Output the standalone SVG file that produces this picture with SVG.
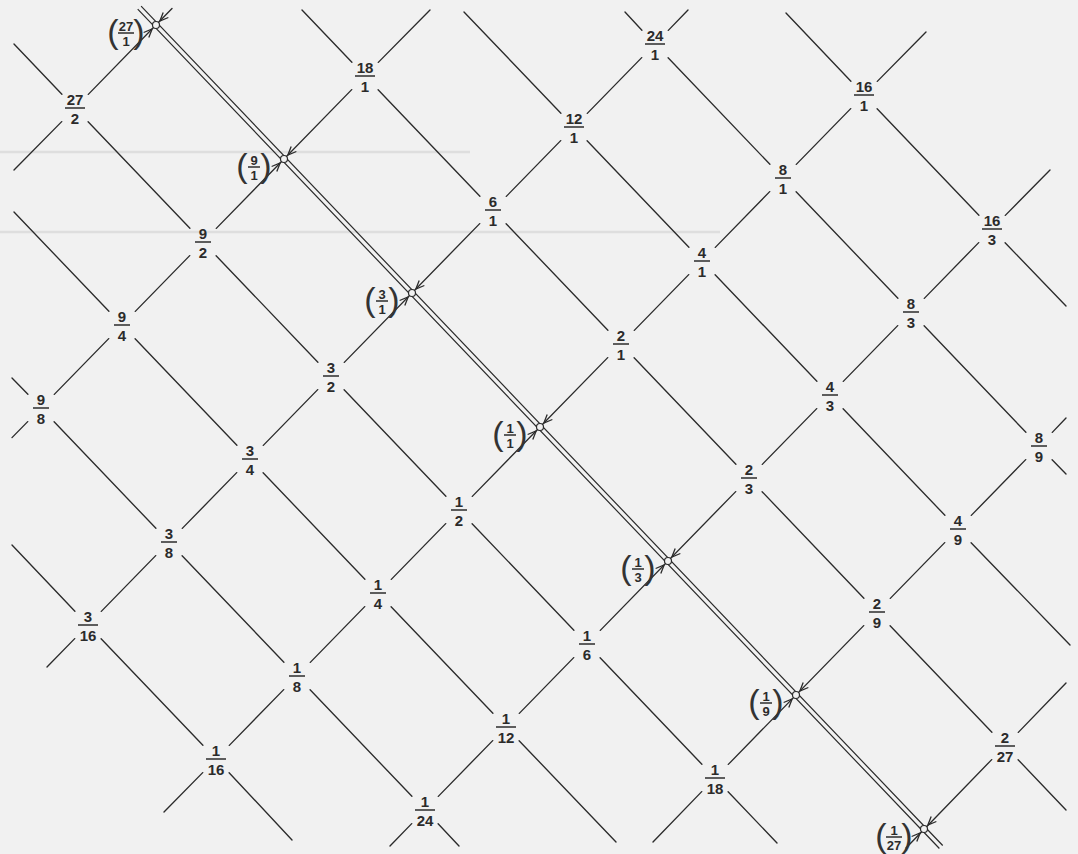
<svg xmlns="http://www.w3.org/2000/svg" width="1078" height="854" viewBox="0 0 1078 854">
<style>
.ln{stroke:#2b2b2b;stroke-width:1.35;fill:none;stroke-linecap:round}
.dl{stroke:#2b2b2b;stroke-width:1.2;fill:none}
.ah{stroke:#2b2b2b;stroke-width:1.3;fill:none;stroke-linejoin:miter}
.f{font-family:"Liberation Sans",Arial,sans-serif;font-weight:bold;font-size:15px;fill:#2b2b2b;text-anchor:middle}
.fc{font-family:"Liberation Sans",Arial,sans-serif;font-weight:bold;font-size:13px;fill:#2b2b2b;text-anchor:middle}
.p{font-family:"Liberation Sans",Arial,sans-serif;font-size:34px;fill:#333;text-anchor:middle}
.bar{stroke:#2b2b2b;stroke-width:1.5}
.rule{stroke:#dedede;stroke-width:2.5}
.ci{fill:#f1f1f1;stroke:#2b2b2b;stroke-width:1.2}
</style>
<defs>
<path id="ah" class="ah" d="M14,-3.6 L5.5,0 L14,3.6"/>
</defs>
<rect width="1078" height="854" fill="#f1f1f1"/>
<g id="background">
<line class="rule" x1="0" y1="152" x2="470" y2="152"/>
<line class="rule" x1="0" y1="232" x2="720" y2="232"/>
</g>
<g id="connectors">
<path class="dl" d="M137.7,9.1 L939.4,848.5 M141.1,6.1 L942.7,845.5"/>
<path class="ln" d="M14,170 L61.7,121.6 M88.3,94.4 L172,8.5
M12,437.6 L27.7,421.6 M54.3,394.4 L108.7,338.6 M135.3,311.4 L189.7,255.6 M216.3,228.4 L351.7,89.6 M378.3,62.4 L430,10
M47,667 L74.7,638.6 M101.3,611.4 L155.7,555.6 M182.3,528.4 L236.7,472.6 M263.3,445.4 L317.7,389.6 M344.3,362.4 L479.7,223.6 M506.3,196.4 L560.7,140.6 M587.3,113.4 L641.7,57.6 M668.3,30.4 L688,10
M164,812 L202.7,772.6 M229.3,745.4 L283.7,689.6 M310.3,662.4 L364.7,606.6 M391.3,579.4 L445.7,523.6 M472.3,496.4 L607.7,357.6 M634.3,330.4 L688.7,274.6 M715.3,247.4 L769.7,191.6 M796.3,164.4 L850.7,108.6 M877.3,81.4 L926,32
M390,846 L411.7,823.6 M438.3,796.4 L492.7,740.6 M519.3,713.4 L573.7,657.6 M600.3,630.4 L735.7,491.6 M762.3,464.4 L816.7,408.6 M843.3,381.4 L897.7,325.6 M924.3,298.4 L978.7,242.6 M1005.3,215.4 L1050,170
M653,842 L701.7,791.6 M728.3,764.4 L863.7,625.6 M890.3,598.4 L944.7,542.6 M971.3,515.4 L1025.7,459.6 M1052.3,432.4 L1066,418
M906,848 L991.7,759.6 M1018.3,732.4 L1066,683"/>
<path class="ln" d="M12,545 L74.9,611.3 M101.1,638.7 L202.9,745.3 M229.1,772.7 L292,840
M12,378 L27.9,394.3 M54.1,421.7 L155.9,528.3 M182.1,555.7 L283.9,662.3 M310.1,689.7 L411.9,796.3 M438.1,823.7 L459,846
M14,212 L108.9,311.3 M135.1,338.7 L236.9,445.3 M263.1,472.7 L364.9,579.3 M391.1,606.7 L492.9,713.3 M519.1,740.7 L616,842
M14,44 L61.9,94.3 M88.1,121.7 L189.9,228.3 M216.1,255.7 L317.9,362.3 M344.1,389.7 L445.9,496.3 M472.1,523.7 L573.9,630.3 M600.1,657.7 L701.9,764.3 M728.1,791.7 L777,843
M302,10 L351.9,62.3 M378.1,89.7 L479.9,196.3 M506.1,223.7 L607.9,330.3 M634.1,357.7 L735.9,464.3 M762.1,491.7 L863.9,598.3 M890.1,625.7 L991.9,732.3 M1018.1,759.7 L1066,810
M464,12 L560.9,113.3 M587.1,140.7 L688.9,247.3 M715.1,274.7 L816.9,381.3 M843.1,408.7 L944.9,515.3 M971.1,542.7 L1070,645
M625,12 L641.9,30.3 M668.1,57.7 L769.9,164.3 M796.1,191.7 L897.9,298.3 M924.1,325.7 L1025.9,432.3 M1052.1,459.7 L1066,474
M786,13 L850.9,81.3 M877.1,108.7 L978.9,215.3 M1005.1,242.7 L1066,306"/>
<use href="#ah" transform="translate(156,25) rotate(-45.7)"/>
<use href="#ah" transform="translate(156,25) rotate(134.3)"/>
<use href="#ah" transform="translate(284,159) rotate(-45.7)"/>
<use href="#ah" transform="translate(284,159) rotate(134.3)"/>
<use href="#ah" transform="translate(412,293) rotate(-45.7)"/>
<use href="#ah" transform="translate(412,293) rotate(134.3)"/>
<use href="#ah" transform="translate(540,427) rotate(-45.7)"/>
<use href="#ah" transform="translate(540,427) rotate(134.3)"/>
<use href="#ah" transform="translate(668,561) rotate(-45.7)"/>
<use href="#ah" transform="translate(668,561) rotate(134.3)"/>
<use href="#ah" transform="translate(796,695) rotate(-45.7)"/>
<use href="#ah" transform="translate(796,695) rotate(134.3)"/>
<use href="#ah" transform="translate(924,829) rotate(-45.7)"/>
<use href="#ah" transform="translate(924,829) rotate(134.3)"/>
</g>
<g id="n27-1"><circle class="ci" cx="156" cy="25" r="3.5"/><text class="p" x="113" y="43">(</text><text class="p" x="139" y="43">)</text><text class="fc" x="126" y="30.5">27</text><path class="bar" d="M118,33 h16"/><text class="fc" x="126" y="45.5">1</text></g>
<g id="n9-1"><circle class="ci" cx="284" cy="159" r="3.5"/><text class="p" x="242" y="177">(</text><text class="p" x="266" y="177">)</text><text class="fc" x="254" y="164.5">9</text><path class="bar" d="M248,167 h12"/><text class="fc" x="254" y="179.5">1</text></g>
<g id="n3-1"><circle class="ci" cx="412" cy="293" r="3.5"/><text class="p" x="370" y="311">(</text><text class="p" x="394" y="311">)</text><text class="fc" x="382" y="298.5">3</text><path class="bar" d="M376,301 h12"/><text class="fc" x="382" y="313.5">1</text></g>
<g id="n1-1"><circle class="ci" cx="540" cy="427" r="3.5"/><text class="p" x="498" y="445">(</text><text class="p" x="522" y="445">)</text><text class="fc" x="510" y="432.5">1</text><path class="bar" d="M504,435 h12"/><text class="fc" x="510" y="447.5">1</text></g>
<g id="n1-3"><circle class="ci" cx="668" cy="561" r="3.5"/><text class="p" x="626" y="579">(</text><text class="p" x="650" y="579">)</text><text class="fc" x="638" y="566.5">1</text><path class="bar" d="M632,569 h12"/><text class="fc" x="638" y="581.5">3</text></g>
<g id="n1-9"><circle class="ci" cx="796" cy="695" r="3.5"/><text class="p" x="754" y="713">(</text><text class="p" x="778" y="713">)</text><text class="fc" x="766" y="700.5">1</text><path class="bar" d="M760,703 h12"/><text class="fc" x="766" y="715.5">9</text></g>
<g id="n1-27"><circle class="ci" cx="924" cy="829" r="3.5"/><text class="p" x="881" y="847">(</text><text class="p" x="907" y="847">)</text><text class="fc" x="894" y="834.5">1</text><path class="bar" d="M886,837 h16"/><text class="fc" x="894" y="849.5">27</text></g>
<g id="n27-2"><text class="f" x="75" y="104.5">27</text><path class="bar" d="M65,108 h20"/><text class="f" x="75" y="123.5">2</text></g>
<g id="n18-1"><text class="f" x="365" y="72.5">18</text><path class="bar" d="M355,76 h20"/><text class="f" x="365" y="91.5">1</text></g>
<g id="n9-2"><text class="f" x="203" y="238.5">9</text><path class="bar" d="M195,242 h16"/><text class="f" x="203" y="257.5">2</text></g>
<g id="n9-4"><text class="f" x="122" y="321.5">9</text><path class="bar" d="M114,325 h16"/><text class="f" x="122" y="340.5">4</text></g>
<g id="n9-8"><text class="f" x="41" y="404.5">9</text><path class="bar" d="M33,408 h16"/><text class="f" x="41" y="423.5">8</text></g>
<g id="n24-1"><text class="f" x="655" y="40.5">24</text><path class="bar" d="M645,44 h20"/><text class="f" x="655" y="59.5">1</text></g>
<g id="n12-1"><text class="f" x="574" y="123.5">12</text><path class="bar" d="M564,127 h20"/><text class="f" x="574" y="142.5">1</text></g>
<g id="n6-1"><text class="f" x="493" y="206.5">6</text><path class="bar" d="M485,210 h16"/><text class="f" x="493" y="225.5">1</text></g>
<g id="n3-2"><text class="f" x="331" y="372.5">3</text><path class="bar" d="M323,376 h16"/><text class="f" x="331" y="391.5">2</text></g>
<g id="n3-4"><text class="f" x="250" y="455.5">3</text><path class="bar" d="M242,459 h16"/><text class="f" x="250" y="474.5">4</text></g>
<g id="n3-8"><text class="f" x="169" y="538.5">3</text><path class="bar" d="M161,542 h16"/><text class="f" x="169" y="557.5">8</text></g>
<g id="n3-16"><text class="f" x="88" y="621.5">3</text><path class="bar" d="M78,625 h20"/><text class="f" x="88" y="640.5">16</text></g>
<g id="n16-1"><text class="f" x="864" y="91.5">16</text><path class="bar" d="M854,95 h20"/><text class="f" x="864" y="110.5">1</text></g>
<g id="n8-1"><text class="f" x="783" y="174.5">8</text><path class="bar" d="M775,178 h16"/><text class="f" x="783" y="193.5">1</text></g>
<g id="n4-1"><text class="f" x="702" y="257.5">4</text><path class="bar" d="M694,261 h16"/><text class="f" x="702" y="276.5">1</text></g>
<g id="n2-1"><text class="f" x="621" y="340.5">2</text><path class="bar" d="M613,344 h16"/><text class="f" x="621" y="359.5">1</text></g>
<g id="n1-2"><text class="f" x="459" y="506.5">1</text><path class="bar" d="M451,510 h16"/><text class="f" x="459" y="525.5">2</text></g>
<g id="n1-4"><text class="f" x="378" y="589.5">1</text><path class="bar" d="M370,593 h16"/><text class="f" x="378" y="608.5">4</text></g>
<g id="n1-8"><text class="f" x="297" y="672.5">1</text><path class="bar" d="M289,676 h16"/><text class="f" x="297" y="691.5">8</text></g>
<g id="n1-16"><text class="f" x="216" y="755.5">1</text><path class="bar" d="M206,759 h20"/><text class="f" x="216" y="774.5">16</text></g>
<g id="n16-3"><text class="f" x="992" y="225.5">16</text><path class="bar" d="M982,229 h20"/><text class="f" x="992" y="244.5">3</text></g>
<g id="n8-3"><text class="f" x="911" y="308.5">8</text><path class="bar" d="M903,312 h16"/><text class="f" x="911" y="327.5">3</text></g>
<g id="n4-3"><text class="f" x="830" y="391.5">4</text><path class="bar" d="M822,395 h16"/><text class="f" x="830" y="410.5">3</text></g>
<g id="n2-3"><text class="f" x="749" y="474.5">2</text><path class="bar" d="M741,478 h16"/><text class="f" x="749" y="493.5">3</text></g>
<g id="n1-6"><text class="f" x="587" y="640.5">1</text><path class="bar" d="M579,644 h16"/><text class="f" x="587" y="659.5">6</text></g>
<g id="n1-12"><text class="f" x="506" y="723.5">1</text><path class="bar" d="M496,727 h20"/><text class="f" x="506" y="742.5">12</text></g>
<g id="n1-24"><text class="f" x="425" y="806.5">1</text><path class="bar" d="M415,810 h20"/><text class="f" x="425" y="825.5">24</text></g>
<g id="n8-9"><text class="f" x="1039" y="442.5">8</text><path class="bar" d="M1031,446 h16"/><text class="f" x="1039" y="461.5">9</text></g>
<g id="n4-9"><text class="f" x="958" y="525.5">4</text><path class="bar" d="M950,529 h16"/><text class="f" x="958" y="544.5">9</text></g>
<g id="n2-9"><text class="f" x="877" y="608.5">2</text><path class="bar" d="M869,612 h16"/><text class="f" x="877" y="627.5">9</text></g>
<g id="n1-18"><text class="f" x="715" y="774.5">1</text><path class="bar" d="M705,778 h20"/><text class="f" x="715" y="793.5">18</text></g>
<g id="n2-27"><text class="f" x="1005" y="742.5">2</text><path class="bar" d="M995,746 h20"/><text class="f" x="1005" y="761.5">27</text></g>
</svg>
